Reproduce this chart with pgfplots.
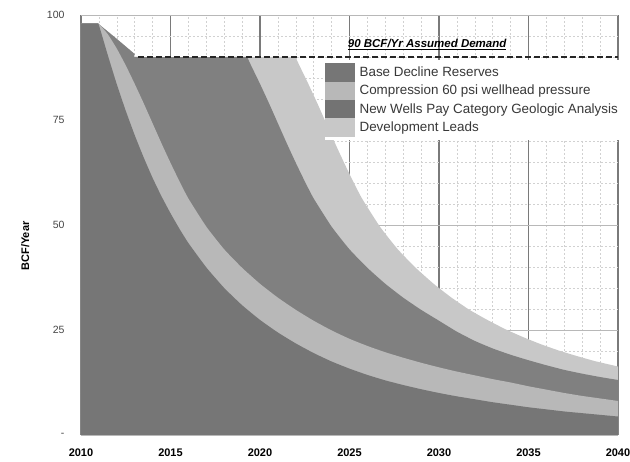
\documentclass[border=0pt]{standalone}
\usepackage{fontspec}
\setmainfont{Liberation Sans}
\usepackage{pgfplots}
\usepackage{pgfplotstable}
\pgfplotsset{compat=1.18}

\definecolor{baseC}{HTML}{767676}
\definecolor{compC}{HTML}{B8B8B8}
\definecolor{wellC}{HTML}{808080}
\definecolor{leadC}{HTML}{C8C8C8}
\definecolor{tickC}{HTML}{444444}

% cumulative top of each layer, BCF/Year
\pgfplotstableread{
yr v
2010 98
2010.9 98
2011 97.6
2011.5 90.4
2012 83.5
2012.5 77.2
2013 71.4
2013.5 66.1
2014 61.2
2014.5 56.8
2015 52.8
2015.5 49.1
2016 45.7
2017 39.9
2018 35.0
2019 30.9
2020 27.4
2021 24.4
2022 21.8
2023 19.5
2024 17.5
2025 15.8
2026 14.3
2027 13.0
2028 11.9
2029 10.9
2030 10.0
2031 9.2
2032 8.5
2033 7.8
2034 7.2
2035 6.6
2036 6.1
2037 5.6
2038 5.2
2039 4.8
2040 4.4
}\baseTbl

\pgfplotstableread{
yr v
2010 98
2010.9 98
2011 97.9
2011.5 95.4
2012 92.0
2012.5 88.0
2013 83.6
2013.5 79.0
2014 74.2
2014.5 69.4
2015 64.8
2015.5 60.4
2016 56.3
2017 49.6
2018 44.2
2019 39.8
2020 36.0
2021 32.7
2022 29.8
2023 27.2
2024 24.9
2025 22.9
2026 21.2
2027 19.7
2028 18.4
2029 17.2
2030 16.1
2031 15.1
2032 14.2
2033 13.3
2034 12.5
2035 11.6
2036 10.8
2037 10.0
2038 9.3
2039 8.7
2040 8.1
}\compTbl

\pgfplotstableread{
yr v
2010 98
2010.9 98
2011 97.8
2012 94.3
2013 90.7
2013.2 90
2019.2 90
2019.3 89.8
2019.5 88.0
2020 83.6
2020.5 79.0
2021 74.2
2021.5 69.4
2022 64.8
2022.5 60.4
2023 56.3
2024 49.6
2025 44.2
2026 39.8
2027 36.0
2028 32.7
2029 29.8
2030 27.2
2031 24.6
2032 22.4
2033 20.6
2034 19.1
2035 17.8
2036 16.6
2037 15.5
2038 14.6
2039 13.8
2040 13.1
}\wellTbl

\pgfplotstableread{
yr v
2010 98
2010.9 98
2011 97.8
2012 94.3
2013 90.7
2013.2 90
2021.9 90
2022 89.8
2022.2 88.0
2022.7 83.6
2023.2 79.0
2023.7 74.2
2024.2 69.4
2024.7 64.8
2025.2 60.4
2025.7 56.3
2026.7 49.6
2027.7 44.2
2028.7 39.8
2029.7 36.0
2030.7 32.7
2031.7 29.8
2032.7 27.4
2033.7 25.2
2034.7 23.3
2035.7 21.6
2036.7 20.1
2037.7 18.8
2038.7 17.6
2039.7 16.6
2040 16.3
}\leadTbl

\begin{document}
\begin{tikzpicture}
\useasboundingbox (-81pt,-27pt) rectangle (549pt,435pt);
\begin{axis}[
  at={(0pt,0pt)}, anchor=south west,
  scale only axis, width=537pt, height=420pt,
  xmin=2010, xmax=2040, ymin=0, ymax=100,
  axis line style={draw=none},
  xtick={2010,2015,2020,2025,2030,2035,2040},
  xticklabels={2010,2015,2020,2025,2030,2035,2040},
  ytick={0,25,50,75,100},
  yticklabels={-,25,50,75,100},
  minor xtick={2011,...,2039},
  minor ytick={5,10,...,95},
  major tick length=0pt, minor tick length=0pt,
  grid=both,
  major x grid style={draw=black!52, line width=1.3pt},
  major y grid style={draw=black!28, line width=0.6pt},
  minor grid style={draw=black!18, line width=0.5pt, dash pattern=on 2pt off 2pt},
  xticklabel style={font=\bfseries\fontsize{11}{13}\selectfont, yshift=-10pt},
  yticklabel style={font=\fontsize{10.5}{12}\selectfont, text=tickC, xshift=-13pt},
  ylabel={BCF/Year},
  ylabel style={at={(axis description cs:-0.104,0.45)}, anchor=center,
                font=\bfseries\fontsize{11}{13}\selectfont},
  legend style={at={(rel axis cs:0.4544,0.893)}, anchor=north west,
                draw=none, fill=white, inner xsep=0pt, inner ysep=3pt,
                font=\fontsize{13.4}{15}\selectfont, text=black!78,
                row sep=0pt, legend cell align=left,
                nodes={inner xsep=5pt}},
]
% layers painted back to front, each down to zero
\addplot[fill=leadC, draw=none, smooth, tension=0.3, forget plot] table[x=yr,y=v] {\leadTbl} \closedcycle;
\addplot[fill=wellC, draw=none, smooth, tension=0.3, forget plot] table[x=yr,y=v] {\wellTbl} \closedcycle;
\addplot[fill=compC, draw=none, smooth, tension=0.3, forget plot] table[x=yr,y=v] {\compTbl} \closedcycle;
\addplot[fill=baseC, draw=none, smooth, tension=0.3, forget plot] table[x=yr,y=v] {\baseTbl} \closedcycle;

% assumed demand
\addplot[black!85, line width=1.8pt, dash pattern=on 6pt off 3pt, forget plot]
  coordinates {(2013.2,90) (2040,90)};
\node[anchor=base west, inner sep=0pt, font=\bfseries\itshape\fontsize{11.5}{13}\selectfont]
  at (axis cs:2024.9,92.3) {\underline{90 BCF/Yr Assumed Demand}};

\addlegendimage{legend image code/.code={\fill[baseC] (0pt,-9pt) rectangle (29pt,9pt);}}
\addlegendentry{Base Decline Reserves}
\addlegendimage{legend image code/.code={\fill[compC] (0pt,-9pt) rectangle (29pt,9pt);}}
\addlegendentry{Compression 60 psi wellhead pressure}
\addlegendimage{legend image code/.code={\fill[wellC!90!black] (0pt,-9pt) rectangle (29pt,9pt);}}
\addlegendentry{New Wells Pay Category Geologic Analysis}
\addlegendimage{legend image code/.code={\fill[leadC] (0pt,-9pt) rectangle (29pt,9pt);}}
\addlegendentry{Development Leads}
\end{axis}
\end{tikzpicture}
\end{document}
